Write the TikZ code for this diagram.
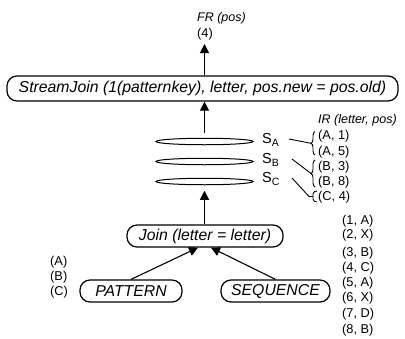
\documentclass[tikz,border=0pt]{standalone}
\usepackage{fontspec}
\setmainfont{Liberation Sans}
\usetikzlibrary{arrows.meta,decorations.pathreplacing,shapes.geometric}
\begin{document}
\begin{tikzpicture}[x=1pt,y=-1pt,
  box/.style={draw, line width=1.2pt, rounded corners=10pt, inner sep=0pt,
    font=\fontsize{15.8}{18}\selectfont\itshape},
  lbl/.style={font=\fontsize{12.8}{15}\selectfont, inner sep=0pt, anchor=west},
  ilbl/.style={lbl, font=\fontsize{12.5}{15}\selectfont\itshape},
  slbl/.style={font=\fontsize{14.5}{16}\selectfont, inner sep=0pt, anchor=west},
  ring/.style={draw, ellipse, line width=1pt, minimum width=97pt, minimum height=6.5pt, inner sep=0pt},
  arr/.style={-{Triangle[length=9pt,width=9pt]}, line width=1.1pt},
  thinline/.style={line width=0.9pt},
  bracestyle/.style={thinline, decorate, decoration={brace, amplitude=4pt}}]
\useasboundingbox (0,0) rectangle (405,338);

% top labels
\node[ilbl] (fr) at (197,18) {FR (pos)};
\node[lbl] (four) at (197,34) {(4)};
\coordinate (frtip) at (204.5,44);

% StreamJoin
\node[box, minimum width=391pt, minimum height=25pt] (sj) at (202.5,88.5)
  {StreamJoin (1(patternkey), letter, pos.new = pos.old)};
\draw[arr] (sj.north -| frtip) -- (frtip);

% ellipses
\node[ring] (e1) at (204.5,141.5) {};
\node[ring] (e2) at (204.5,161.5) {};
\node[ring] (e3) at (204.5,181.5) {};
\draw[arr, shorten <=4.5pt] (e1.north) -- (e1.north |- sj.south);

% S labels
\node[slbl] (sa) at (262,140) {S\raisebox{-3pt}{\fontsize{10.5}{10}\selectfont A}};
\node[slbl] (sb) at (262,160) {S\raisebox{-3pt}{\fontsize{10.5}{10}\selectfont B}};
\node[slbl] (sc) at (262,179) {S\raisebox{-3pt}{\fontsize{10.5}{10}\selectfont C}};

% IR
\node[ilbl] (ir) at (318,120) {IR (letter, pos)};
\node[lbl] (a1) at (318,136) {(A, 1)};
\node[lbl] (a5) at (318,152) {(A, 5)};
\node[lbl] (b3) at (318,167) {(B, 3)};
\node[lbl] (b8) at (318,182) {(B, 8)};
\node[lbl] (c4) at (318,197) {(C, 4)};

% braces
\draw[bracestyle] (315,155) -- (315,131.5);
\coordinate (ta) at (311,143.3);
\draw[bracestyle] (315,187) -- (315,160);
\coordinate (tb) at (311,173.5);
\draw[thinline] (317,191) to[out=180,in=90] (313,194) -- (313,199) to[out=-90,in=180] (317,202);
\coordinate (tc) at (313,196.5);

\coordinate (la) at (289,139);
\coordinate (lb) at (292,159);
\coordinate (lc) at (292,178);
\draw[thinline] (la) -- (ta);
\draw[thinline] (lb) -- (tb);
\draw[thinline] (lc) -- (309,196.5) -- (tc);

% Join
\node[box, minimum width=156pt, minimum height=22pt] (join) at (205,236) {Join (letter = letter)};
\draw[arr, shorten >=5.5pt] (join.north -| e3) -- (e3.south);

% PATTERN, SEQUENCE
\node[box, minimum width=102pt, minimum height=22pt] (pat) at (131,291) {PATTERN};
\node[box, minimum width=109pt, minimum height=22pt] (seq) at (275.5,291) {SEQUENCE};
\draw[arr] (pat.north) -- ([xshift=-7pt]join.south);
\draw[arr] (seq.north) -- ([xshift=6pt]join.south);

% left list
\node[lbl] (pa) at (50,262) {(A)};
\node[lbl] (pb) at (50,277) {(B)};
\node[lbl] (pc) at (50,292) {(C)};

% right list
\node[lbl] (s1) at (342,221) {(1, A)};
\node[lbl] (s2) at (342,235) {(2, X)};
\node[lbl] (s3) at (342,253) {(3, B)};
\node[lbl] (s4) at (342,268) {(4, C)};
\node[lbl] (s5) at (342,283) {(5, A)};
\node[lbl] (s6) at (342,298) {(6, X)};
\node[lbl] (s7) at (342,314) {(7, D)};
\node[lbl] (s8) at (342,330) {(8, B)};
\end{tikzpicture}
\end{document}
